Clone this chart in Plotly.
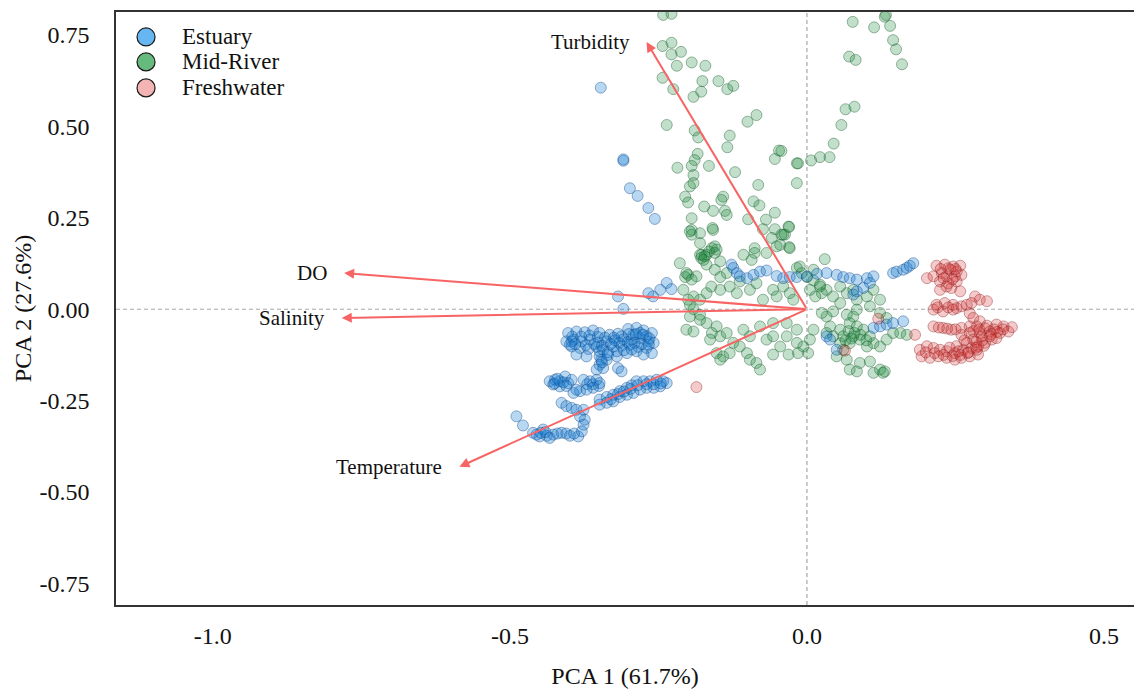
import plotly.graph_objects as go

# ---- PCA scores (PC1, PC2) per site group ----
estuary_x = [
    -0.402, -0.388, -0.374, -0.360, -0.349, -0.332, -0.318, -0.301, -0.287, -0.275, -0.261, -0.270,
    -0.405, -0.393, -0.379, -0.365, -0.351, -0.337, -0.323, -0.309, -0.295, -0.281, -0.267, -0.258,
    -0.396, -0.382, -0.368, -0.354, -0.343, -0.326, -0.312, -0.298, -0.284, -0.270, -0.261,
    -0.388, -0.371, -0.349, -0.337, -0.320, -0.303, -0.287, -0.275,
    -0.349, -0.354, -0.343, -0.318, -0.312,
    -0.396, -0.399, -0.281, -0.292, -0.349, -0.346,
    -0.395, -0.380, -0.366, -0.352, -0.340, -0.325, -0.312, -0.300, -0.288, -0.276, -0.265,
    -0.390, -0.372, -0.358, -0.345, -0.330, -0.316, -0.302, -0.290, -0.278, -0.266,
    -0.335, -0.320, -0.308, -0.295, -0.345, -0.335,
    -0.433, -0.424, -0.416, -0.407, -0.402, -0.416, -0.427, -0.396,
    -0.425, -0.410, -0.420, -0.405, -0.370, -0.360, -0.350,
    -0.376, -0.365, -0.354, -0.349, -0.360, -0.371, -0.382, -0.393, -0.388,
    -0.349, -0.337, -0.326, -0.315, -0.303, -0.295, -0.287, -0.275, -0.264, -0.253, -0.242, -0.236,
    -0.247, -0.258, -0.270, -0.281, -0.292, -0.303, -0.315, -0.326, -0.337, -0.349,
    -0.330, -0.318, -0.308, -0.297, -0.285, -0.270, -0.258, -0.246,
    -0.413, -0.405, -0.396, -0.388, -0.376, -0.382, -0.374, -0.376,
    -0.489, -0.478, -0.461, -0.450, -0.438, -0.427, -0.413, -0.399, -0.385, -0.379, -0.444, -0.455, -0.433,
    -0.420, -0.405, -0.392, -0.448, -0.440,
    -0.347, -0.309, -0.309, -0.298, -0.285, -0.267, -0.256,
    -0.236, -0.228, -0.247, -0.259, -0.267, -0.318, -0.309,
    -0.127, -0.124, -0.118, -0.113, -0.101, -0.090, -0.079, -0.068, -0.051, -0.040, -0.029, -0.017,
    0.000, 0.017, 0.033, 0.050, 0.061, 0.072, 0.084, 0.101, 0.112, 0.106, 0.095, 0.084, 0.078,
    0.145, 0.151, 0.162, 0.168, 0.173, 0.179,
    0.033, 0.039, 0.112, 0.123, 0.134, 0.145, 0.162, 0.050,
]
estuary_y = [
    -0.065, -0.061, -0.063, -0.058, -0.065, -0.070, -0.067, -0.054, -0.051, -0.058, -0.065, -0.074,
    -0.088, -0.083, -0.088, -0.083, -0.091, -0.088, -0.085, -0.082, -0.083, -0.079, -0.088, -0.092,
    -0.102, -0.106, -0.109, -0.103, -0.111, -0.102, -0.100, -0.097, -0.103, -0.106, -0.120,
    -0.124, -0.129, -0.129, -0.138, -0.129, -0.120, -0.115, -0.124,
    -0.152, -0.165, -0.161, -0.161, -0.170,
    -0.088, -0.097, -0.065, -0.070, -0.115, -0.138,
    -0.075, -0.075, -0.072, -0.076, -0.078, -0.078, -0.074, -0.068, -0.068, -0.070, -0.080,
    -0.095, -0.098, -0.095, -0.100, -0.095, -0.092, -0.090, -0.092, -0.095, -0.097,
    -0.118, -0.115, -0.112, -0.110, -0.145, -0.125,
    -0.197, -0.193, -0.197, -0.184, -0.202, -0.211, -0.206, -0.193,
    -0.203, -0.200, -0.190, -0.210, -0.205, -0.205, -0.210,
    -0.193, -0.197, -0.193, -0.202, -0.215, -0.220, -0.224, -0.229, -0.220,
    -0.247, -0.240, -0.234, -0.224, -0.215, -0.208, -0.197, -0.197, -0.197, -0.193, -0.197, -0.202,
    -0.211, -0.215, -0.215, -0.220, -0.229, -0.234, -0.240, -0.252, -0.256, -0.261,
    -0.246, -0.232, -0.225, -0.218, -0.208, -0.205, -0.205, -0.203,
    -0.256, -0.265, -0.270, -0.275, -0.275, -0.293, -0.302, -0.316,
    -0.293, -0.318, -0.338, -0.348, -0.346, -0.343, -0.338, -0.346, -0.348, -0.334, -0.329, -0.343, -0.352,
    -0.340, -0.340, -0.340, -0.338, -0.336,
    0.606, 0.406, 0.410, 0.331, 0.310, 0.277, 0.247,
    0.072, 0.055, 0.053, 0.035, 0.044, 0.035, 0.001,
    0.122, 0.113, 0.099, 0.090, 0.085, 0.094, 0.103, 0.106, 0.091, 0.085, 0.088, 0.088,
    0.090, 0.097, 0.099, 0.094, 0.088, 0.085, 0.081, 0.085, 0.090, 0.072, 0.058, 0.049, 0.040,
    0.099, 0.103, 0.108, 0.113, 0.119, 0.126,
    -0.074, -0.083, -0.051, -0.047, -0.042, -0.038, -0.033, -0.111,
]

midriver_x = [
    -0.242, -0.228, -0.243, -0.228, -0.228, -0.212, -0.219, -0.194, -0.171, -0.243, -0.225, -0.176,
    -0.149, -0.178, -0.191, -0.134, -0.124, -0.236, -0.100, -0.085, -0.189, -0.183, -0.130, -0.134,
    -0.047, -0.054, -0.017, -0.184, -0.189, -0.194, -0.218, -0.165, -0.191, -0.191, -0.197, -0.121,
    -0.082, -0.017, -0.205, -0.200, -0.141, -0.144, -0.173, -0.158, -0.138, -0.135, -0.090, -0.080,
    -0.054, -0.194, -0.159, -0.194, -0.194, -0.099, -0.069, -0.074, -0.054, -0.040, -0.031, -0.059,
    -0.045, -0.180, -0.155, -0.088,
    0.077, 0.113, 0.133, 0.131, 0.140, 0.145, 0.150, 0.160, 0.071, 0.082, 0.065, 0.080, 0.058,
    0.045, 0.038, 0.022, 0.007, -0.015, -0.043, -0.030, -0.037, -0.030,
    -0.214, -0.177, -0.160, -0.152, -0.169, -0.178, -0.155, -0.146, -0.169, -0.155, -0.200, -0.186,
    -0.205, -0.146, -0.135, -0.107, -0.088, -0.093, -0.068, 0.030, -0.017, -0.009, 0.000, 0.011,
    0.011, 0.022, 0.033, 0.025, 0.014, 0.005, 0.044, 0.056, 0.067, 0.084, 0.101, 0.084, 0.078,
    0.067, 0.044, 0.033, 0.025,
    0.039, 0.056, 0.072, 0.084, 0.095, 0.078, 0.061, 0.056, 0.072, 0.089, 0.106, 0.112, 0.123,
    0.101, 0.134, 0.145, 0.157, 0.168, 0.033, 0.044,
    0.070, 0.080, 0.090, 0.065, 0.100, 0.075,
    0.050, 0.067, 0.072, 0.089, 0.106, 0.112, 0.123, 0.131, 0.084, 0.061,
    -0.208, -0.191, -0.197, -0.180, -0.169, -0.161, -0.146, -0.130, -0.118, -0.113, -0.096, -0.085,
    -0.074, -0.057, -0.051, -0.040, -0.029, -0.023,
    -0.197, -0.180, -0.169, -0.152, -0.160, -0.146, -0.135, -0.124, -0.113, -0.101, -0.096, -0.085,
    -0.079, -0.152, -0.141, -0.130, -0.068, -0.057, -0.045, -0.034, -0.017, -0.006, 0.005, 0.011,
    -0.017, -0.034, -0.057, -0.079, -0.096, -0.107,
    -0.203, -0.194, -0.200, -0.191, -0.180, -0.163, -0.146, -0.057, -0.031, -0.015, 0.002,
    -0.197, -0.180, -0.158, -0.180, -0.174, -0.043, -0.029, -0.051, -0.012,
    0.022, 0.056, 0.078, 0.112, 0.123, 0.106, 0.123, 0.134, -0.203, -0.191, 0.128,
    -0.165, -0.172,
]
midriver_y = [
    0.805, 0.808, 0.720, 0.729, 0.697, 0.704, 0.666, 0.675, 0.666, 0.633, 0.602, 0.624,
    0.624, 0.595, 0.581, 0.602, 0.611, 0.504, 0.513, 0.531, 0.489, 0.470, 0.475, 0.443,
    0.434, 0.411, 0.399, 0.425, 0.408, 0.392, 0.387, 0.392, 0.367, 0.345, 0.336, 0.375,
    0.340, 0.345, 0.308, 0.292, 0.308, 0.299, 0.281, 0.269, 0.269, 0.258, 0.295, 0.284,
    0.264, 0.249, 0.222, 0.217, 0.204, 0.246, 0.245, 0.219, 0.219, 0.204, 0.226, 0.195,
    0.176, 0.181, 0.172, 0.167,
    0.786, 0.771, 0.805, 0.800, 0.775, 0.736, 0.711, 0.670, 0.691, 0.682, 0.547, 0.554, 0.504,
    0.453, 0.416, 0.416, 0.407, 0.399, 0.433, 0.225, 0.204, 0.170,
    0.126, 0.149, 0.167, 0.163, 0.149, 0.140, 0.154, 0.131, 0.122, 0.108, 0.094, 0.090,
    0.088, 0.088, 0.099, 0.149, 0.154, 0.135, 0.154, 0.137, 0.113, 0.099, 0.088, 0.108,
    0.079, 0.062, 0.053, 0.044, 0.035, 0.053, 0.035, 0.017, 0.044, 0.026, 0.035, -0.001, -0.020,
    -0.015, -0.006, -0.020, -0.010,
    -0.047, -0.056, -0.038, -0.047, -0.056, -0.074, -0.074, -0.093, -0.093, -0.083, -0.074, -0.093, -0.102,
    -0.102, -0.083, -0.065, -0.065, -0.070, -0.065, -0.074,
    -0.060, -0.065, -0.070, -0.085, -0.085, -0.080,
    -0.129, -0.138, -0.165, -0.147, -0.143, -0.174, -0.165, -0.170, -0.170, -0.111,
    0.053, 0.035, 0.012, 0.026, 0.044, 0.062, 0.053, 0.062, 0.044, 0.076, 0.053, 0.071,
    0.026, 0.053, 0.035, 0.062, 0.044, 0.026,
    -0.020, -0.015, -0.038, -0.047, -0.065, -0.074, -0.065, -0.092, -0.102, -0.120, -0.138, -0.147,
    -0.165, -0.120, -0.129, -0.120, -0.083, -0.074, -0.102, -0.074, -0.092, -0.102, -0.083, -0.056,
    -0.056, -0.038, -0.038, -0.047, -0.074, -0.056,
    0.099, 0.081, 0.026, 0.000, -0.029, -0.083, -0.138, -0.124, -0.124, -0.120, -0.120,
    0.213, 0.208, 0.217, 0.149, 0.135, 0.204, 0.167, 0.172, 0.117,
    0.067, 0.062, 0.053, 0.053, 0.026, 0.008, -0.010, -0.024, -0.056, -0.061, -0.174,
    0.158, 0.145,
]

freshwater_x = [
    0.218, 0.232, 0.246, 0.258, 0.241, 0.252, 0.227, 0.202, 0.213, 0.235, 0.249, 0.260,
    0.224, 0.238, 0.252, 0.224, 0.243, 0.258,
    0.225, 0.238, 0.250, 0.230, 0.245, 0.235,
    0.283, 0.291, 0.277, 0.269, 0.303, 0.218, 0.232, 0.246, 0.260, 0.213, 0.229, 0.246,
    0.274, 0.280, 0.291, 0.220, 0.238, 0.252,
    0.213, 0.229, 0.243, 0.260, 0.274, 0.286, 0.303, 0.319, 0.331, 0.345, 0.339, 0.325,
    0.308, 0.291, 0.274, 0.260,
    0.222, 0.236, 0.250, 0.300, 0.315, 0.330, 0.310, 0.320, 0.280, 0.290,
    0.190, 0.202, 0.213, 0.224, 0.235, 0.249, 0.263, 0.277, 0.288, 0.300, 0.311, 0.319,
    0.193, 0.207, 0.221, 0.235, 0.249, 0.260, 0.274, 0.288, 0.252, 0.269, 0.280, 0.294,
    0.308, 0.286,
    0.265, 0.285, 0.295, 0.270, 0.255, 0.240,
    0.200, 0.215, 0.230, 0.245, 0.258, 0.272, 0.285, 0.298,
    -0.186, 0.064, 0.120, 0.182,
]
freshwater_y = [
    0.119, 0.122, 0.117, 0.119, 0.108, 0.103, 0.099, 0.085, 0.090, 0.090, 0.090, 0.094,
    0.076, 0.071, 0.076, 0.053, 0.058, 0.049,
    0.110, 0.112, 0.110, 0.085, 0.082, 0.062,
    0.035, 0.026, 0.017, 0.012, 0.022, 0.012, 0.017, 0.012, 0.008, -0.001, -0.006, -0.001,
    -0.011, -0.024, -0.033, 0.005, 0.005, 0.003,
    -0.047, -0.051, -0.056, -0.051, -0.047, -0.047, -0.045, -0.042, -0.047, -0.049, -0.061, -0.065,
    -0.061, -0.065, -0.065, -0.070,
    -0.050, -0.053, -0.055, -0.052, -0.055, -0.055, -0.068, -0.062, -0.060, -0.055,
    -0.111, -0.101, -0.106, -0.111, -0.115, -0.120, -0.111, -0.106, -0.101, -0.092, -0.083, -0.079,
    -0.129, -0.133, -0.129, -0.133, -0.138, -0.133, -0.129, -0.124, -0.101, -0.092, -0.083, -0.074,
    -0.074, -0.111,
    -0.085, -0.090, -0.085, -0.120, -0.115, -0.105,
    -0.118, -0.120, -0.125, -0.128, -0.125, -0.118, -0.105, -0.100,
    -0.213, -0.113, -0.026, -0.070,
]

# ---- variable loadings (arrow tips) ----
loading_names = ["Turbidity", "DO", "Salinity", "Temperature"]
loading_x = [-0.270, -0.779, -0.783, -0.585]
loading_y = [0.731, 0.099, -0.024, -0.431]

group_names = ["Estuary", "Mid-River", "Freshwater"]
group_fill = ["rgba(20,122,210,0.30)", "rgba(34,140,64,0.28)", "rgba(214,52,52,0.26)"]
group_edge = ["rgba(10,70,140,0.42)", "rgba(20,90,40,0.42)", "rgba(140,30,30,0.40)"]
legend_fill = ["#66B6F2", "#66BA7E", "#F5B4B4"]

SERIF = "Liberation Serif"
ARROW = "#F86464"

fig = go.Figure()

series = {
    "Mid-River": (midriver_x, midriver_y),
    "Estuary": (estuary_x, estuary_y),
    "Freshwater": (freshwater_x, freshwater_y),
}
for name in ["Mid-River", "Estuary", "Freshwater"]:
    i = group_names.index(name)
    xs, ys = series[name]
    fig.add_trace(go.Scatter(
        x=xs, y=ys, mode="markers", name=name, showlegend=False,
        marker=dict(size=11, color=group_fill[i],
                    line=dict(color=group_edge[i], width=1)),
    ))

# reference lines through the origin
shapes = [
    dict(type="line", xref="x", yref="paper", x0=0, x1=0, y0=0, y1=1,
         line=dict(color="#A8A8A8", width=1.2, dash="4px,3px"), layer="below"),
    dict(type="line", xref="paper", yref="y", x0=0, x1=1, y0=0, y1=0,
         line=dict(color="#A8A8A8", width=1.2, dash="4px,3px"), layer="below"),
]

annotations = []
for name, lx, ly in zip(loading_names, loading_x, loading_y):
    annotations.append(dict(
        x=lx, y=ly, ax=0, ay=0, xref="x", yref="y", axref="x", ayref="y",
        text="", showarrow=True, arrowhead=2, arrowsize=1, arrowwidth=2,
        arrowcolor=ARROW, standoff=0, startstandoff=0,
    ))
    annotations.append(dict(
        x=lx, y=ly, xref="x", yref="y", text=name, showarrow=False,
        xanchor="right", yanchor="middle", xshift=-15,
        font=dict(family=SERIF, size=21, color="#111111"),
    ))

# legend drawn as keyed circles with labels
leg_x = 0.0295
leg_text_x = 0.0630
leg_y = [0.9579, 0.9158, 0.8720]
for i, name in enumerate(group_names):
    shapes.append(dict(
        type="circle", xref="paper", yref="paper", xsizemode="pixel", ysizemode="pixel",
        xanchor=leg_x, yanchor=leg_y[i], x0=-9, x1=9, y0=-9, y1=9,
        fillcolor=legend_fill[i], line=dict(color="#1a1a1a", width=1.2),
    ))
    annotations.append(dict(
        x=leg_text_x, y=leg_y[i], xref="paper", yref="paper", text=name, showarrow=False,
        xanchor="left", yanchor="middle",
        font=dict(family=SERIF, size=23, color="#111111"),
    ))

fig.update_layout(
    width=1134, height=689,
    margin=dict(l=116, r=0, t=12, b=84, autoexpand=False),
    paper_bgcolor="white", plot_bgcolor="white",
    font=dict(family=SERIF, size=24, color="#111111"),
    showlegend=False,
    shapes=shapes,
    annotations=annotations,
)
fig.update_xaxes(
    range=[-1.163, 0.5505], showgrid=False, zeroline=False,
    tickvals=[-1.0, -0.5, 0.0, 0.5], ticktext=["-1.0", "-0.5", "0.0", "0.5"],
    ticks="", ticklabelstandoff=8,
    showline=True, linecolor="#333333", linewidth=1.5, mirror=True,
    title=dict(text="PCA 1 (61.7%)", standoff=22, font=dict(family=SERIF, size=24)),
    tickfont=dict(family=SERIF, size=24, color="#111111"),
)
fig.update_yaxes(
    range=[-0.809, 0.813], showgrid=False, zeroline=False,
    tickvals=[-0.75, -0.5, -0.25, 0.0, 0.25, 0.5, 0.75],
    ticktext=["-0.75", "-0.50", "-0.25", "0.00", "0.25", "0.50", "0.75"],
    ticks="", ticklabelstandoff=20,
    showline=True, linecolor="#333333", linewidth=1.5, mirror=False,
    title=dict(text="PCA 2 (27.6%)", standoff=1, font=dict(family=SERIF, size=24)),
    tickfont=dict(family=SERIF, size=24, color="#111111"),
)

fig.write_html("out.html")
